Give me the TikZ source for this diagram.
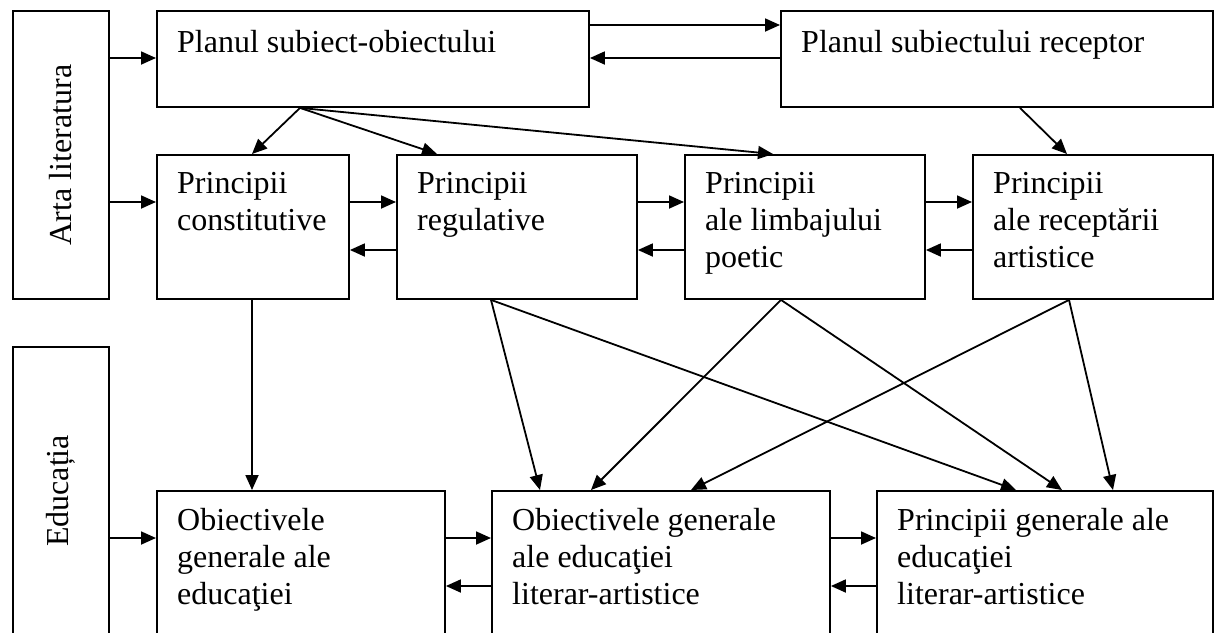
\documentclass[tikz,border=0pt]{standalone}
\usepackage{fontspec}
\setmainfont{Liberation Serif}
\usetikzlibrary{arrows.meta,calc}
\begin{document}
\begin{tikzpicture}[x=1pt,y=-1pt,
  box/.style={draw, line width=1.9pt, anchor=north west, inner sep=0pt, rectangle},
  txt/.style={anchor=base west, inner sep=0pt, font=\fontsize{32}{37}\selectfont},
  vtxt/.style={rotate=90, inner sep=0pt, font=\fontsize{32}{37}\selectfont},
  arr/.style={line width=1.8pt, -{Triangle[length=15pt,width=13pt]}}]
\useasboundingbox (0,0) rectangle (1214,632);
% side boxes
\node[box, minimum width=96pt, minimum height=288pt] (arta) at (12,10) {};
\node[box, minimum width=96pt, minimum height=288pt] (edu) at (12,346) {};
\node[vtxt] (artat) at (arta.center) {Arta literatura};
\node[vtxt] (edut) at (edu.center) {Educația};
% top row
\node[box, minimum width=432pt, minimum height=96pt] (ps) at (156,10) {};
\node[box, minimum width=432pt, minimum height=96pt] (rec) at (780,10) {};
% middle row
\node[box, minimum width=192pt, minimum height=144pt] (pc) at (156,154) {};
\node[box, minimum width=240pt, minimum height=144pt] (prg) at (396,154) {};
\node[box, minimum width=240pt, minimum height=144pt] (plp) at (684,154) {};
\node[box, minimum width=240pt, minimum height=144pt] (pra) at (972,154) {};
% bottom row
\node[box, minimum width=288pt, minimum height=144pt] (oge) at (156,490) {};
\node[box, minimum width=338pt, minimum height=144pt] (ogela) at (491,490) {};
\node[box, minimum width=336pt, minimum height=144pt] (pgela) at (876,490) {};
% texts
\node[txt] (pst) at ([shift={(21,42)}]ps.north west) {\parbox[t]{420pt}{Planul subiect-obiectului}};
\node[txt] (rect) at ([shift={(21,42)}]rec.north west) {\parbox[t]{420pt}{Planul subiectului receptor}};
\node[txt] (pct) at ([shift={(21,39)}]pc.north west) {\parbox[t]{180pt}{Principii\\constitutive}};
\node[txt] (prgt) at ([shift={(21,39)}]prg.north west) {\parbox[t]{220pt}{Principii\\regulative}};
\node[txt] (plpt) at ([shift={(21,39)}]plp.north west) {\parbox[t]{220pt}{Principii\\ale limbajului\\poetic}};
\node[txt] (prat) at ([shift={(21,39)}]pra.north west) {\parbox[t]{220pt}{Principii\\ale receptării\\artistice}};
\node[txt] (oget) at ([shift={(21,40)}]oge.north west) {\parbox[t]{260pt}{Obiectivele\\generale ale\\educaţiei}};
\node[txt] (ogelat) at ([shift={(21,40)}]ogela.north west) {\parbox[t]{320pt}{Obiectivele generale\\ale educaţiei\\literar-artistice}};
\node[txt] (pgelat) at ([shift={(21,40)}]pgela.north west) {\parbox[t]{320pt}{Principii generale ale\\educaţiei\\literar-artistice}};
% horizontal arrows
\draw[arr] ([yshift=-48pt]arta.north east) -- ([yshift=-48pt]ps.north west);
\draw[arr] ([yshift=-192pt]arta.north east) -- ([yshift=-48pt]pc.north west);
\draw[arr] ([yshift=-192pt]edu.north east) -- ([yshift=-48pt]oge.north west);
\draw[arr] ([yshift=-15pt]ps.north east) -- ([yshift=-15pt]rec.north west);
\draw[arr] ([yshift=-48pt]rec.north west) -- ([yshift=-48pt]ps.north east);
\draw[arr] ([yshift=-48pt]pc.north east) -- ([yshift=-48pt]prg.north west);
\draw[arr] ([yshift=-96pt]prg.north west) -- ([yshift=-96pt]pc.north east);
\draw[arr] ([yshift=-48pt]prg.north east) -- ([yshift=-48pt]plp.north west);
\draw[arr] ([yshift=-96pt]plp.north west) -- ([yshift=-96pt]prg.north east);
\draw[arr] ([yshift=-48pt]plp.north east) -- ([yshift=-48pt]pra.north west);
\draw[arr] ([yshift=-96pt]pra.north west) -- ([yshift=-96pt]plp.north east);
\draw[arr] ([yshift=-48pt]oge.north east) -- ([yshift=-48pt]ogela.north west);
\draw[arr] ([yshift=-96pt]ogela.north west) -- ([yshift=-96pt]oge.north east);
\draw[arr] ([yshift=-48pt]ogela.north east) -- ([yshift=-48pt]pgela.north west);
\draw[arr] ([yshift=-96pt]pgela.north west) -- ([yshift=-96pt]ogela.north east);
% diagonal arrows from top row
\draw[arr] ([xshift=144pt]ps.south west) -- ([xshift=96pt]pc.north west);
\draw[arr] ([xshift=144pt]ps.south west) -- ([xshift=41pt]prg.north west);
\draw[arr] ([xshift=144pt]ps.south west) -- ([xshift=89pt]plp.north west);
\draw[arr] ([xshift=240pt]rec.south west) -- ([xshift=95pt]pra.north west);
% arrows to bottom row
\draw[arr] ([xshift=96pt]pc.south west) -- ([xshift=96pt]oge.north west);
\draw[arr] ([xshift=95pt]prg.south west) -- ([xshift=49pt]ogela.north west);
\draw[arr] ([xshift=95pt]prg.south west) -- ([xshift=140pt]pgela.north west);
\draw[arr] ([xshift=97pt]plp.south west) -- ([xshift=100pt]ogela.north west);
\draw[arr] ([xshift=97pt]plp.south west) -- ([xshift=186pt]pgela.north west);
\draw[arr] ([xshift=97pt]pra.south west) -- ([xshift=200pt]ogela.north west);
\draw[arr] ([xshift=97pt]pra.south west) -- ([xshift=237pt]pgela.north west);
\end{tikzpicture}
\end{document}
